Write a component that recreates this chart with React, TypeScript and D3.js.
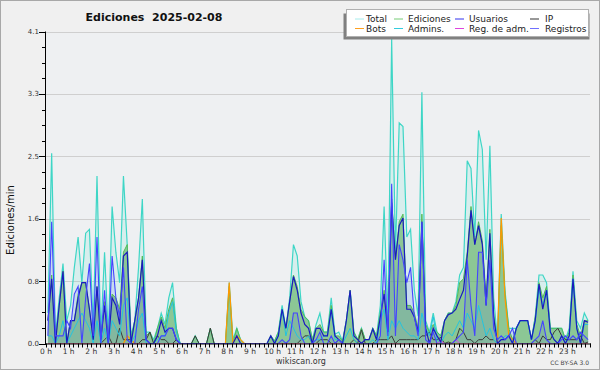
import React from "react";
import * as d3 from "d3";

// one value every 10 minutes, rows = hours 0..23
const TOTAL = [
  0.4, 2.5, 0.1, 0.6, 1.05, 0.3,
  0.5, 1.0, 1.4, 0.8, 1.45, 1.5,
  0.2, 2.2, 0.1, 1.2, 0.1, 1.8,
  1.2, 0.8, 2.2, 1.3, 0.1, 0.3,
  1.0, 1.9, 0.15, 0.15, 0.05, 0.2,
  0.4, 0.25, 0.6, 0.8, 0.2, 0,
  0, 0, 0, 0.1, 0, 0,
  0, 0.2, 0, 0, 0, 0,
  0.8, 0.05, 0.2, 0.05, 0, 0,
  0, 0, 0, 0, 0, 0.1,
  0.03, 0.15, 0.5, 0.2, 0.6, 1.3,
  1.15, 0.55, 0.35, 0.3, 0.05, 0.25,
  0.4, 0.15, 0.15, 0.6, 0.12, 0.15,
  0.03, 0.3, 0.7, 0.15, 0.05, 0.2,
  0.05, 0.05, 0.2, 0.1, 0.5, 1.8,
  0.3, 4.0, 1.2, 2.9, 2.85, 1.4,
  1.5, 0.7, 0.36, 3.3, 0.3, 0.15,
  0.4, 0.15, 0.1, 0.3, 0.4, 0.4,
  0.55, 0.9, 1.0, 2.4, 2.3, 1.4,
  2.8, 2.55, 1.1, 2.6, 0.6, 0.05,
  1.7, 0.7, 0.2, 0.2, 0.2, 0.3,
  0.3, 0.3, 0.05, 0.35, 0.9, 0.9,
  0.8, 0.2, 0.2, 0.2, 0.2, 0.05,
  0.2, 0.95, 0.3, 0.2, 0.4, 0.3,
];
const EDICIONES = [
  0.3, 0.9, 0.05, 0.5, 0.95, 0,
  0.3, 0.3, 0.65, 0.8, 0.8, 0.45,
  0.05, 0.75, 0.05, 0.55, 0.1, 0.65,
  0.6, 0.45, 1.2, 1.3, 0.05, 0.3,
  0.6, 1.15, 0.1, 0.15, 0, 0.2,
  0.35, 0.2, 0.45, 0.6, 0.2, 0,
  0, 0, 0, 0.1, 0, 0,
  0, 0.2, 0, 0, 0, 0,
  0.75, 0, 0.2, 0.05, 0, 0,
  0, 0, 0, 0, 0, 0.1,
  0.03, 0.15, 0.45, 0.2, 0.55, 0.9,
  0.75, 0.45, 0.35, 0.3, 0.05, 0.2,
  0.25, 0.15, 0.15, 0.5, 0.1, 0.1,
  0.03, 0.3, 0.7, 0.15, 0.05, 0.2,
  0.05, 0.05, 0.2, 0.1, 0.4, 0.7,
  0.2, 1.9, 1.1, 1.6, 1.7, 0.5,
  0.5, 0.4, 0.2, 1.7, 0.25, 0.15,
  0.25, 0.15, 0.1, 0.3, 0.4, 0.4,
  0.5, 0.8, 0.85, 1.2, 1.8, 1.3,
  1.6, 1.35, 0.6, 1.5, 0.4, 0,
  1.55, 0.65, 0.2, 0.05, 0.2, 0.3,
  0.3, 0.3, 0.05, 0.35, 0.8, 0.6,
  0.75, 0.2, 0.2, 0.2, 0.2, 0.05,
  0.15, 0.9, 0.25, 0.1, 0.3, 0.3,
];
const USUARIOS = [
  0.3, 0.85, 0, 0.5, 0.95, 0,
  0.3, 0.3, 0.6, 0.8, 0.8, 0.45,
  0.05, 0.75, 0.05, 0.5, 0, 0.6,
  0.5, 0.25, 1.15, 1.2, 0, 0.3,
  0.6, 1.1, 0.05, 0, 0, 0.1,
  0.3, 0.15, 0.2, 0.2, 0.05, 0,
  0, 0, 0, 0, 0, 0,
  0, 0, 0, 0, 0, 0,
  0, 0, 0.1, 0, 0, 0,
  0, 0, 0, 0, 0, 0.1,
  0, 0.1, 0.45, 0.2, 0.55, 0.88,
  0.7, 0.4, 0.25, 0.2, 0, 0.2,
  0.2, 0.1, 0.1, 0.45, 0.1, 0.05,
  0, 0.3, 0.7, 0.1, 0.05, 0,
  0.05, 0.05, 0.19, 0.05, 0.35, 0.65,
  0.15, 1.85, 1.1, 1.55, 1.65, 0.45,
  0.45, 0.35, 0.15, 1.6, 0.2, 0,
  0.2, 0.1, 0.02, 0.3, 0.38, 0.4,
  0.45, 0.58, 0.7, 1.15, 1.75, 1.3,
  1.55, 1.3, 0.5, 1.45, 0.35, 0,
  0.05, 0.05, 0.1, 0, 0.2, 0.3,
  0.3, 0.3, 0.05, 0.3, 0.78, 0.45,
  0.7, 0.15, 0.05, 0, 0.1, 0,
  0.1, 0.85, 0.2, 0, 0.3, 0.28,
];
const IP = [
  0, 0, 0, 0, 0, 0,
  0, 0, 0, 0, 0, 0,
  0, 0, 0, 0.05, 0.1, 0,
  0, 0.2, 0.05, 0.05, 0.05, 0,
  0, 0.05, 0.05, 0.15, 0, 0.1,
  0.05, 0.05, 0, 0, 0.05, 0,
  0, 0, 0, 0.1, 0, 0,
  0, 0.2, 0, 0, 0, 0,
  0, 0, 0, 0, 0, 0,
  0, 0, 0, 0, 0, 0,
  0, 0, 0, 0, 0, 0,
  0, 0.05, 0.1, 0.1, 0, 0,
  0.05, 0.05, 0.05, 0, 0, 0.05,
  0, 0, 0, 0.05, 0, 0.18,
  0, 0, 0, 0.05, 0.05, 0.05,
  0.05, 0.1, 0, 0.05, 0.05, 0.05,
  0.05, 0.05, 0.05, 0.1, 0.1, 0.15,
  0.05, 0.05, 0.08, 0, 0.02, 0,
  0.05, 0.2, 0.15, 0.05, 0.05, 0,
  0.05, 0.05, 0.1, 0.05, 0.05, 0,
  0, 0, 0, 0, 0, 0,
  0, 0, 0, 0.05, 0, 0.1,
  0.05, 0.05, 0.15, 0.2, 0.1, 0.05,
  0.05, 0.05, 0.05, 0.1, 0, 0.02,
];
const BOTS = [
  0, 0, 0, 0, 0, 0,
  0, 0, 0, 0, 0, 0,
  0, 0, 0, 0, 0, 0,
  0, 0, 0, 0.1, 0.05, 0,
  0, 0, 0, 0, 0, 0,
  0, 0, 0, 0, 0, 0,
  0, 0, 0, 0, 0, 0,
  0, 0, 0, 0, 0, 0,
  0.8, 0, 0.1, 0.05, 0, 0,
  0, 0, 0, 0, 0, 0,
  0, 0, 0, 0, 0, 0,
  0, 0, 0, 0, 0, 0,
  0, 0, 0, 0, 0, 0,
  0, 0, 0, 0, 0, 0,
  0, 0, 0, 0, 0, 0,
  0, 0, 0, 0, 0, 0,
  0, 0, 0, 0, 0, 0,
  0, 0, 0, 0, 0, 0,
  0, 0, 0, 0, 0, 0,
  0, 0, 0, 0, 0, 0,
  1.65, 0.6, 0.1, 0.05, 0, 0,
  0, 0, 0, 0, 0, 0,
  0, 0, 0, 0, 0, 0,
  0, 0, 0, 0, 0, 0,
];
const ADMINS = [
  0.1, 0.1, 0, 0.1, 0.3, 0,
  0.1, 0.2, 0.3, 0.4, 0.3, 0.2,
  0, 0.3, 0, 0.2, 0, 0.3,
  0.2, 0.1, 0.5, 0.6, 0, 0.1,
  0.3, 0.4, 0, 0, 0, 0.05,
  0.1, 0.1, 0.4, 0.55, 0.15, 0,
  0, 0, 0, 0, 0, 0,
  0, 0, 0, 0, 0, 0,
  0, 0, 0, 0, 0, 0,
  0, 0, 0, 0, 0, 0,
  0, 0.1, 0.45, 0.1, 0.3, 0.2,
  0.1, 0.05, 0.05, 0.1, 0, 0.05,
  0.05, 0.1, 0.1, 0.45, 0.05, 0.05,
  0, 0.1, 0.2, 0.05, 0, 0,
  0, 0, 0.05, 0, 0.3, 0.45,
  0.05, 0.3, 0.2, 0.3, 0.2, 0.15,
  0.1, 0.1, 0.05, 0.4, 0.2, 0.1,
  0.35, 0.05, 0, 0.1, 0.15, 0.1,
  0.2, 0.3, 0.2, 0.4, 0.3, 0.2,
  0.5, 0.3, 0.1, 0.2, 0.05, 0,
  0.05, 0.1, 0.1, 0, 0.2, 0.3,
  0.3, 0.3, 0.05, 0.3, 0.7, 0.5,
  0.7, 0.15, 0.05, 0, 0.1, 0,
  0.1, 0.85, 0.2, 0, 0.25, 0.25,
];
const REG_ADM = [
  0, 0, 0, 0, 0, 0,
  0, 0, 0, 0, 0, 0,
  0, 0, 0, 0, 0, 0,
  0, 0, 0, 0, 0, 0,
  0, 0, 0, 0, 0, 0,
  0, 0, 0, 0, 0, 0,
  0, 0, 0, 0, 0, 0,
  0, 0, 0, 0, 0, 0,
  0, 0, 0, 0, 0, 0,
  0, 0, 0, 0, 0, 0,
  0, 0, 0, 0, 0, 0,
  0, 0, 0, 0, 0, 0,
  0, 0, 0, 0, 0, 0,
  0, 0, 0, 0, 0, 0,
  0, 0, 0, 0, 0, 0,
  0, 0, 0, 0, 0, 0,
  0, 0, 0, 0, 0, 0,
  0, 0, 0.03, 0, 0, 0,
  0.05, 0, 0, 0, 0, 0,
  0, 0, 0, 0, 0, 0,
  0, 0, 0, 0, 0, 0,
  0, 0, 0, 0, 0, 0,
  0, 0, 0, 0, 0, 0,
  0, 0, 0, 0, 0, 0,
];
const REGISTROS = [
  0.1, 1.6, 0.1, 0.1, 0.1, 0.3,
  0.2, 0.65, 0.75, 0, 0.6, 1.05,
  0.1, 1.4, 0, 0.7, 0, 1.15,
  0.6, 0.35, 1.0, 0.05, 0, 0,
  0.45, 0.75, 0.05, 0, 0, 0,
  0.1, 0.1, 0.2, 0.2, 0.05, 0,
  0, 0, 0, 0, 0, 0,
  0, 0, 0, 0, 0, 0,
  0, 0, 0, 0, 0, 0,
  0, 0, 0, 0, 0, 0,
  0, 0, 0.05, 0, 0.05, 0.4,
  0.4, 0.1, 0, 0, 0, 0.05,
  0.15, 0, 0, 0.1, 0, 0.05,
  0, 0, 0, 0, 0, 0,
  0, 0, 0, 0, 0.1, 1.1,
  0.1, 2.1, 0.1, 1.3, 1.1, 0.8,
  1.0, 0.35, 0.1, 1.6, 0.05, 0,
  0.15, 0, 0, 0, 0, 0,
  0.05, 0.1, 0.15, 1.1, 0.5, 0.1,
  1.2, 1.2, 0.5, 1.1, 0.2, 0.05,
  0.1, 0.05, 0.1, 0.2, 0, 0,
  0, 0, 0, 0.05, 0.1, 0.3,
  0.05, 0, 0, 0, 0.05, 0.1,
  0.05, 0.1, 0.05, 0.15, 0.1, 0.05,
];

const Y_MAX = 4.1;
const Y_TICKS = [0, 0.82, 1.64, 2.46, 3.28, 4.1];
const HOURS = d3.range(0, 24);
const SLOTS_PER_HOUR = 6;

const LEGEND = [
  { label: "Total", color: "#a8ecec" },
  { label: "Ediciones", color: "#77cc77" },
  { label: "Usuarios", color: "#3333ee" },
  { label: "IP", color: "#333333" },
  { label: "Bots", color: "#ffa020" },
  { label: "Admins.", color: "#33ccdd" },
  { label: "Reg. de adm.", color: "#dd44dd" },
  { label: "Registros", color: "#7070ff" },
];

const FONT = "DejaVu Sans, Verdana, sans-serif";

export default function App() {
  const left = 46, right = 590, top = 31.5, bottom = 343.5;
  const x = d3.scaleLinear().domain([0, 24]).range([left, right]);
  const y = d3.scaleLinear().domain([0, Y_MAX]).range([bottom, top]);
  const px = (i: number) => x((i + 0.5) / SLOTS_PER_HOUR);

  const line = d3.line<number>().x((_, i) => px(i)).y((d) => y(d));
  const area = d3.area<number>().x((_, i) => px(i)).y0(y(0)).y1((d) => y(d));

  const fmt = d3.format(".1f");
  const minorY = d3.range(0, Y_MAX + 0.001, Y_MAX / 20);
  const minorX = d3.range(0, 24.001, 0.2);

  const legendLineX = [355, 394, 455, 530];
  const legendTextX = [366, 408, 469, 545];
  const legendRowY = [22, 31.5];

  return (
    <svg width={600} height={370} style={{ display: "block", position: "absolute", left: 0, top: 0 }} fontFamily={FONT}>
      <style>{`body{margin:0}`}</style>
      <defs>
        <clipPath id="plot">
          <rect x={left} y={top - 2} width={right - left + 1} height={bottom - top + 2} />
        </clipPath>
      </defs>
      <rect x={0} y={0} width={600} height={370} fill="#f0f0f0" />
      <rect x={0.5} y={0.5} width={599} height={369} fill="none" stroke="#a8a8a8" />
      <rect x={left} y={top} width={right - left} height={bottom - top} fill="#eef0f2" />

      {/* grid */}
      {Y_TICKS.slice(1).map((t) => (
        <line key={t} x1={left} x2={right} y1={Math.round(y(t)) + 0.5} y2={Math.round(y(t)) + 0.5} stroke="#cfcfcf" />
      ))}

      <g clipPath="url(#plot)">
        <path d={area(TOTAL) || ""} fill="#40e0d0" fillOpacity={0.13} />
        <path d={area(EDICIONES) || ""} fill="#5aae5a" fillOpacity={0.6} />
        <path d={area(REGISTROS) || ""} fill="#3c3cff" fillOpacity={0.1} />
        <path d={line(TOTAL) || ""} fill="none" stroke="#3ed6c6" strokeWidth={1.2} />
        <path d={line(EDICIONES) || ""} fill="none" stroke="#55bb55" strokeWidth={1} />
        <path d={line(IP) || ""} fill="none" stroke="#3a3a3a" strokeWidth={1} />
        <path d={line(BOTS) || ""} fill="none" stroke="#ff9900" strokeWidth={1.2} />
        <path d={line(ADMINS) || ""} fill="none" stroke="#22c4e0" strokeWidth={1} />
        <path d={line(REG_ADM) || ""} fill="none" stroke="#dd44dd" strokeWidth={1} />
        <path d={line(USUARIOS) || ""} fill="none" stroke="#1a1ac0" strokeWidth={1.2} />
        <path d={line(REGISTROS) || ""} fill="none" stroke="#4444ff" strokeWidth={1.1} />
      </g>

      {/* y axis */}
      <line x1={left - 0.5} x2={left - 0.5} y1={top} y2={bottom + 0.5} stroke="#000" />
      {minorY.map((t, k) => (
        <line key={"my" + k} x1={left - 4} x2={left} y1={Math.round(y(t)) + 0.5} y2={Math.round(y(t)) + 0.5} stroke="#000" />
      ))}
      {Y_TICKS.map((t) => (
        <g key={"yt" + t}>
          <line x1={left - 7} x2={left} y1={Math.round(y(t)) + 0.5} y2={Math.round(y(t)) + 0.5} stroke="#000" />
          <text x={left - 7} y={y(t) + 2.5} fontSize={7} textAnchor="end" fill="#333">{fmt(t)}</text>
        </g>
      ))}

      {/* x axis */}
      <line x1={left - 1} x2={right + 1} y1={bottom + 0.5} y2={bottom + 0.5} stroke="#000" />
      {minorX.map((h, k) => (
        <line key={"mx" + k} x1={Math.round(x(h)) + 0.5} x2={Math.round(x(h)) + 0.5} y1={bottom} y2={bottom + 4} stroke="#000" />
      ))}
      {HOURS.map((h) => (
        <text key={"xl" + h} x={x(h)} y={354} fontSize={7.5} textAnchor="middle" fill="#333">{`${h} h`}</text>
      ))}

      {/* titles */}
      <text x={154} y={21} fontSize={11} fontWeight="bold" textAnchor="middle" fill="#111" style={{ whiteSpace: "pre" }}>{"Ediciones  2025-02-08"}</text>
      <text transform="translate(14,220) rotate(-90)" fontSize={10} textAnchor="middle" fill="#111">Ediciones/min</text>
      <text x={301} y={364} fontSize={8} textAnchor="middle" fill="#333">wikiscan.org</text>
      <text x={589} y={365} fontSize={6} textAnchor="end" fill="#444">CC BY-SA 3.0</text>

      {/* legend */}
      <rect x={343.5} y={13.5} width={246} height={26} fill="#808080" />
      <rect x={346.5} y={9.5} width={242} height={27} fill="#ffffff" stroke="#b0b0b0" />
      {LEGEND.map((l, k) => {
        const col = k % 4;
        const row = Math.floor(k / 4);
        const yy = legendRowY[row];
        return (
          <g key={l.label}>
            <line x1={legendLineX[col]} x2={legendLineX[col] + 9} y1={yy - 3} y2={yy - 3} stroke={l.color} strokeWidth={1} />
            <text x={legendTextX[col]} y={yy} fontSize={9} fill="#222">{l.label}</text>
          </g>
        );
      })}
    </svg>
  );
}
